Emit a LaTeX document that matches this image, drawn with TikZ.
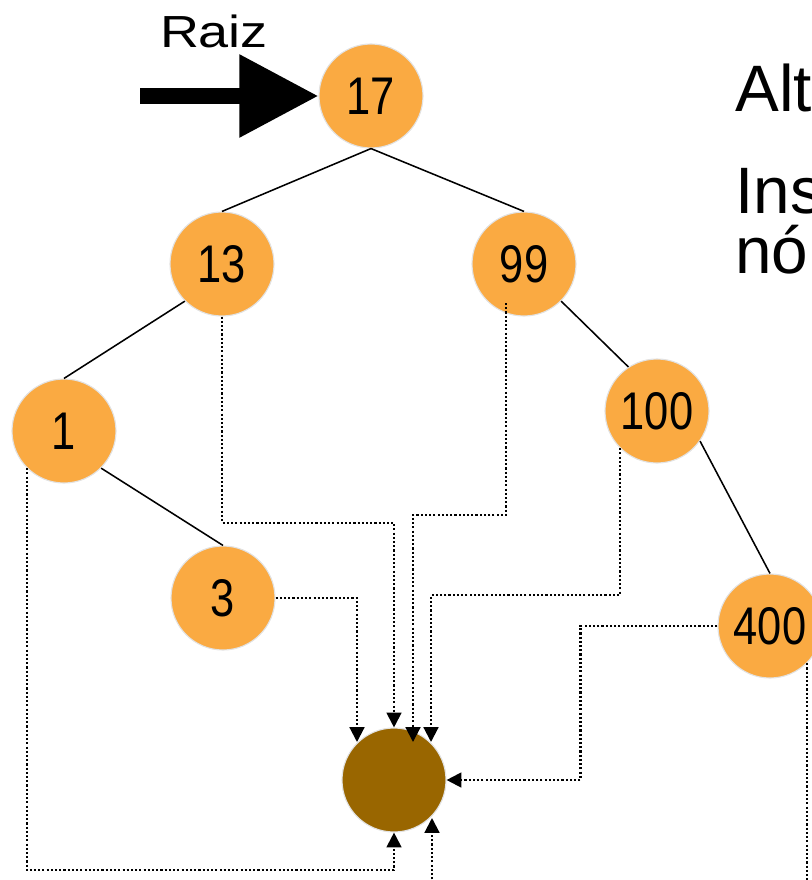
\documentclass[tikz,border=0pt]{standalone}
\usepackage{fontspec}
\setmainfont{Liberation Sans}
\newfontfamily\digitfont[FakeStretch=0.82]{Liberation Sans}
\newfontfamily\raizfont[FakeStretch=1.2]{Liberation Sans}
\usepackage{xcolor}
\usepackage{tikz}
\usetikzlibrary{arrows.meta,positioning}

\definecolor{keyorange}{RGB}{250,170,66}
\definecolor{newbrown}{RGB}{153,102,0}
\definecolor{rimgray}{RGB}{226,226,226}

\begin{document}
\begin{tikzpicture}[
    on grid,
    keynode/.style={circle, fill=#1, draw=rimgray, line width=0.8pt, minimum size=2.6cm, inner sep=0pt, font=\digitfont\fontsize{37.7}{40}\selectfont},
    keynode/.default=keyorange,
    edge/.style={draw, line width=1.1pt},
    link/.style={draw, line width=1.5pt, dash pattern=on 1.5pt off 1.5pt, -{Triangle[length=10.5pt, width=10.5pt]}},
    rootarrow/.style={line width=11pt, -{Triangle[length=1.975cm, width=1.975cm]}},
    notes/.style={anchor=base west, inner sep=0pt, font=\fontsize{46.7}{50}\selectfont}
]
    \useasboundingbox (0,0) rectangle (20.3,-22);
    \clip (0,0) rectangle (20.3,-22);

    \node[keynode] (n17) at (9.275,-2.4) {17};
    \node[keynode, below left=4.2cm and 3.725cm of n17] (n13) {13};
    \node[keynode, below right=4.2cm and 3.825cm of n17] (n99) {99};
    \node[keynode, below left=4.175cm and 3.95cm of n13] (n1) {1};
    \node[keynode, below right=4.175cm and 3.975cm of n1] (n3) {3};
    \node[keynode, below right=3.675cm and 3.325cm of n99] (n100) {100};
    \node[keynode, below right=5.375cm and 2.825cm of n100] (n400) {400};
    \node[keynode=newbrown, below right=17.1cm and 0.575cm of n17] (nnew) {};

    \node[inner sep=0pt, anchor=base, font=\raizfont\fontsize{32}{36}\selectfont] (raiz) at (5.35,-1.2) {Raiz};
    \coordinate (raizstart) at (3.5,-2.4);
    \draw[rootarrow] (raizstart) -- (n17.west);

    \node[notes] (alt) at (18.375,-2.8) {Alt};
    \node[notes] (ins) at (18.375,-5.325) {Ins};
    \node[notes] (no) at (18.375,-6.825) {nó};

    \draw[edge] (n17.south) -- (n13.north);
    \draw[edge] (n17.south) -- (n99.north);
    \draw[edge] (n13.south west) -- (n1.north);
    \draw[edge] (n1.south east) -- (n3.north);
    \draw[edge] (n99.south east) -- (n100.123);
    \draw[edge] (n100.-35) -- (n400.north);

    % every key points down to the new node
    \draw[link] (n13.south) -- ++(0,-5.15) -| (nnew.north);
    \draw[link] (n3.east) -| ([shift={(-0.925,0.95)}]nnew.center);
    \draw[link] ([shift={(-0.45,-0.975)}]n99.center) -- ++(0,-5.3) -| ([shift={(0.475,0.95)}]nnew.center);
    \draw[link] (n100.south west) -- ++(0,-3.675) -| ([shift={(0.925,0.95)}]nnew.center);
    \draw[link] (n400.west) -- ++(-3.425,0) |- (nnew.east);
    \draw[link] (n1.south west) -- ++(0,-10.05) -| (nnew.south);
    \draw[link] (n400.south east) -- ++(0,-6.5) -| ([shift={(0.95,-0.95)}]nnew.center);
\end{tikzpicture}
\end{document}
